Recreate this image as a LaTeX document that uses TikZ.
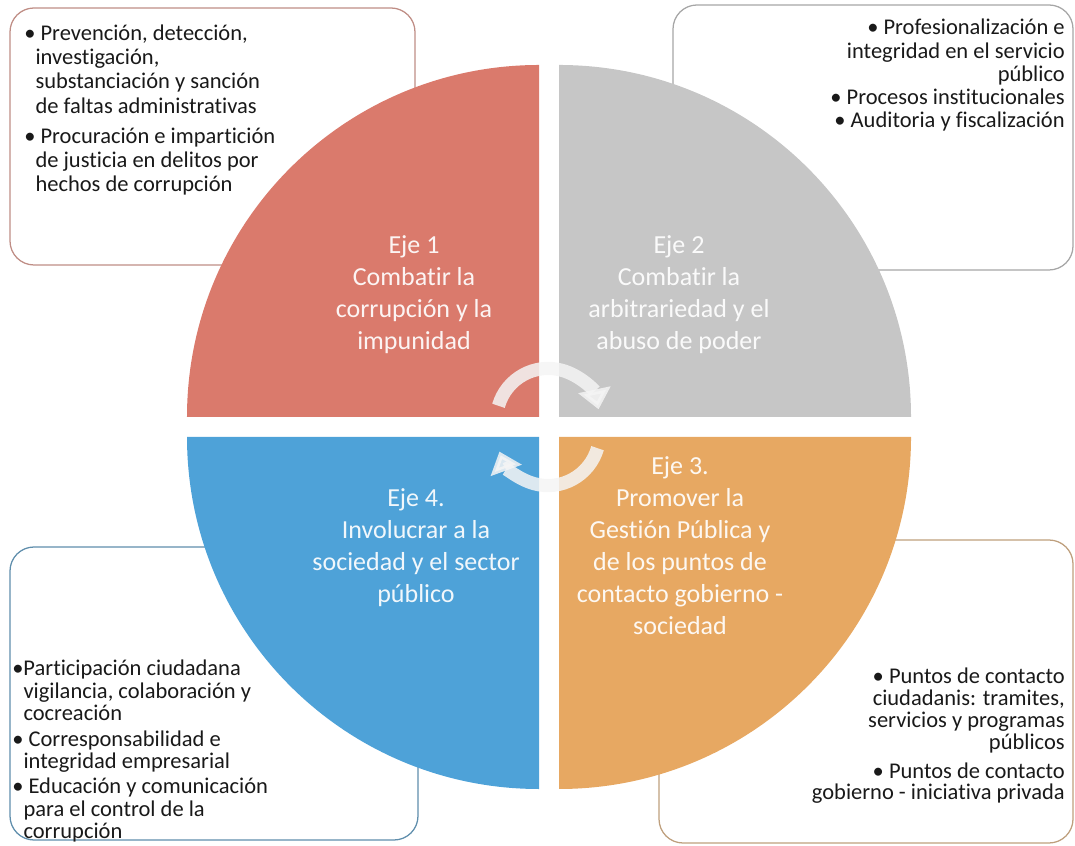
\documentclass[tikz,border=0pt]{standalone}
\usepackage{fontspec}
\setmainfont{Carlito}[Ligatures=NoCommon]
\usepackage{tikz}
\usetikzlibrary{arrows.meta}

\definecolor{ejeuno}{RGB}{218,122,108}
\definecolor{ejedos}{RGB}{198,198,198}
\definecolor{ejetres}{RGB}{231,168,98}
\definecolor{ejecuatro}{RGB}{78,162,216}
\newcommand{\sangria}{\hspace*{0.5em}}

\begin{document}
\begin{tikzpicture}[x=0.25mm, y=0.25mm,
  caja/.style={rounded corners=6mm, line width=0.9pt},
  lista/.style={inner sep=0pt, text=black!90, font=\fontsize{16}{16.5}\selectfont},
  eje/.style={inner sep=0pt, align=center, text=white, text opacity=0.92, font=\fontsize{18.5}{22.8}\selectfont},
  giro/.style={line width=3.3mm, white!92!gray, opacity=0.85, -{Triangle[width=8mm,length=5mm]}}]
\useasboundingbox (0,0) rectangle (1075,846);

% boxes behind the circle
\draw[caja, draw=ejeuno!75!black!70] (10,581) rectangle (415,838);
\draw[caja, draw=black!35] (673,576) rectangle (1073,841);
\draw[caja, draw=ejecuatro!70!black!80] (10,6) rectangle (418,299);
\draw[caja, draw=ejetres!70!black!70] (659,3) rectangle (1073,306);

% the four quarters
\fill[ejeuno] (539,429) -- ++(0,352) arc[start angle=90, end angle=180, radius=88mm] -- cycle;
\fill[ejedos] (559,429) -- ++(352,0) arc[start angle=0, end angle=90, radius=88mm] -- cycle;
\fill[ejetres] (559,409) -- ++(0,-352) arc[start angle=-90, end angle=0, radius=88mm] -- cycle;
\fill[ejecuatro] (539,409) -- ++(-352,0) arc[start angle=180, end angle=270, radius=88mm] -- cycle;

% turning arrows
\draw[giro] (548,426) ++(164:51.5) arc[start angle=164, end angle=12, radius=12.9mm];
\draw[giro] (548,412) ++(-16:51.5) arc[start angle=-16, end angle=-160, radius=12.9mm];

\node[eje] (eje1) at (414,551) {Eje 1\\Combatir la\\corrupción y la\\impunidad};
\node[eje] (eje2) at (679,551) {Eje 2\\Combatir la\\arbitrariedad y el\\abuso de poder};
\node[eje] (eje3) at (680,300) {Eje 3.\\Promover la\\Gestión Pública y\\de los puntos de\\contacto gobierno -\\sociedad};
\node[eje] (eje4) at (416,298) {Eje 4.\\Involucrar a la\\sociedad y el sector\\público};

\node[lista, align=left, anchor=north west] (lista1) at (24,821)
  {• Prevención, detección,\\[0.6pt] \sangria investigación,\\[0.6pt] \sangria substanciación y sanción\\[0.6pt] \sangria de faltas administrativas\\[5pt]
   • Procuración e impartición\\[0.6pt] \sangria de justicia en delitos por\\[0.6pt] \sangria hechos de corrupción};
\node[lista, align=right, anchor=north east] (lista2) at (1065,827)
  {• Profesionalización e\\ integridad en el servicio\\ público\\ • Procesos institucionales\\ • Auditoria y fiscalización};
\node[lista, align=right, anchor=north east, font=\fontsize{16}{15.5}\selectfont] (lista3) at (1065,178)
  {• Puntos de contacto\\ ciudadanis: tramites,\\ servicios y programas\\ públicos\\[5pt] • Puntos de contacto\\ gobierno - iniciativa privada};
\node[lista, align=left, anchor=north west, font=\fontsize{16}{16}\selectfont] (lista4) at (12,186)
  {•Participación ciudadana\\ \sangria vigilancia, colaboración y\\ \sangria cocreación\\[2pt]
   • Corresponsabilidad e\\ \sangria integridad empresarial\\[2pt]
   • Educación y comunicación\\ \sangria para el control de la\\ \sangria corrupción};
\end{tikzpicture}
\end{document}
